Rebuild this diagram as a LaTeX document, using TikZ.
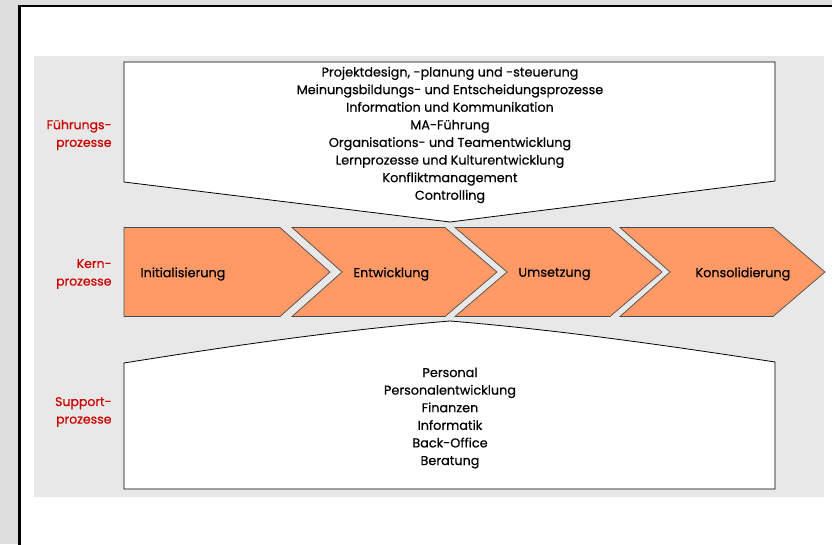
\documentclass[tikz,border=0pt]{standalone}
\usepackage{fontspec}
\setmainfont{Poppins}[FakeBold=0.5]
\definecolor{kernorange}{RGB}{255,153,102}
\definecolor{fuehrred}{RGB}{204,0,0}
\definecolor{panelgrey}{RGB}{232,232,232}
\definecolor{outergrey}{RGB}{222,222,222}
\tikzset{
	ebene/.style={text=fuehrred, align=right, anchor=east, font=\fontsize{12.5}{17.6}\selectfont},
	kern/.style={fill=kernorange, draw=black!70, line width=0.7pt},
	kasten/.style={fill=white, draw=black, line width=0.8pt},
	liste/.style={align=center, font=\fontsize{12.8}{17.6}\selectfont},
	schritt/.style={anchor=west, font=\fontsize{12.8}{14}\selectfont}
}
\begin{document}
\begin{tikzpicture}[x=1pt,y=-1pt]
		\useasboundingbox (0,0) rectangle (832,544);
		\fill[outergrey] (0,0) rectangle (832,544);
		\filldraw[fill=white, draw=black, line width=2.5pt] (19.5,6) rectangle (840,550);
		\fill[panelgrey] (34,56) rectangle (824,497);
		
		% Fuehrungsprozesse
		\draw[kasten] (124,62) -- (775,62) -- (775,181) -- (450,222) -- (124,182) -- cycle;
		\node[liste] (fuehrung) at (450,135) {Projektdesign, -planung und -steuerung\\
			Meinungsbildungs- und Entscheidungsprozesse\\
			Information und Kommunikation\\
			MA-Führung\\
			Organisations- und Teamentwicklung\\
			Lernprozesse und Kulturentwicklung\\
			Konfliktmanagement\\
			Controlling};
		
		% Kernprozesse
		\draw[kern] (124,227.5) -- (280,227.5) -- (330,272) -- (280,316.5) -- (124,316.5) -- cycle;
		\draw[kern] (292,227.5) -- (445,227.5) -- (497,272) -- (445,316.5) -- (292,316.5) -- (342,272) -- cycle;
		\draw[kern] (455,227.5) -- (610,227.5) -- (662,272) -- (610,316.5) -- (455,316.5) -- (507,272) -- cycle;
		\draw[kern] (620,227.5) -- (773,227.5) -- (825,272) -- (773,316.5) -- (620,316.5) -- (670,272) -- cycle;
		\node[schritt] (init) at (137,274) {Initialisierung};
		\node[schritt] (entw) at (350,274) {Entwicklung};
		\node[schritt] (umst) at (515,274) {Umsetzung};
		\node[schritt] (kons) at (692,274) {Konsolidierung};
		
		% Supportprozesse
		\draw[kasten] (124,363) .. controls (230,346) and (340,330) .. (450,321) .. controls (560,330) and (670,346) .. (775,362) -- (775,489) -- (124,489) -- cycle;
		\node[liste] (support) at (450,418) {Personal\\
			Personalentwicklung\\
			Finanzen\\
			Informatik\\
			Back-Office\\
			Beratung};
		
		\node[ebene] (fp) at (115,135) {Führungs-\\prozesse};
		\node[ebene] (kp) at (115,274) {Kern-\\prozesse};
		\node[ebene] (sp) at (115,412) {Support-\\prozesse};
\end{tikzpicture}
\end{document}
